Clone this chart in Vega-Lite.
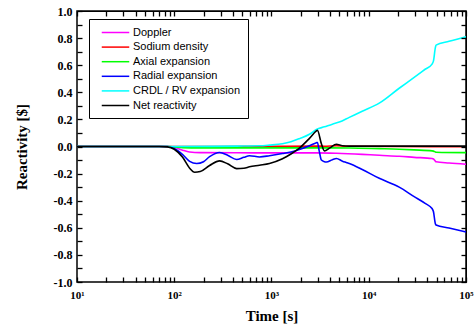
{
  "$schema": "https://vega.github.io/schema/vega-lite/v6.json",
  "width": 389,
  "height": 271,
  "autosize": "none",
  "padding": {"left": 77, "top": 11, "right": 9, "bottom": 45},
  "background": "white",
  "config": {"view": {"stroke": "black", "strokeWidth": 1.5}},
  "data": {"values": [
    {"s": "Doppler", "t": 10, "v": 0}, {"s": "Doppler", "t": 70, "v": 0}, {"s": "Doppler", "t": 85, "v": -0.001}, {"s": "Doppler", "t": 100, "v": -0.006}, {"s": "Doppler", "t": 122, "v": -0.027}, {"s": "Doppler", "t": 144, "v": -0.04}, {"s": "Doppler", "t": 185, "v": -0.045}, {"s": "Doppler", "t": 438, "v": -0.046}, {"s": "Doppler", "t": 953, "v": -0.047}, {"s": "Doppler", "t": 2897, "v": -0.047}, {"s": "Doppler", "t": 4645, "v": -0.05}, {"s": "Doppler", "t": 8570, "v": -0.058}, {"s": "Doppler", "t": 12823, "v": -0.065}, {"s": "Doppler", "t": 20560, "v": -0.072}, {"s": "Doppler", "t": 29309, "v": -0.08}, {"s": "Doppler", "t": 44771, "v": -0.089}, {"s": "Doppler", "t": 46238, "v": -0.092}, {"s": "Doppler", "t": 48417, "v": -0.108}, {"s": "Doppler", "t": 49204, "v": -0.113}, {"s": "Doppler", "t": 66988, "v": -0.122}, {"s": "Doppler", "t": 100000, "v": -0.131},
    {"s": "Sodium density", "t": 10, "v": 0}, {"s": "Sodium density", "t": 100, "v": 0}, {"s": "Sodium density", "t": 1000, "v": 0.001}, {"s": "Sodium density", "t": 2897, "v": 0.003}, {"s": "Sodium density", "t": 3499, "v": 0.002}, {"s": "Sodium density", "t": 4645, "v": 0.006}, {"s": "Sodium density", "t": 5875, "v": 0.002}, {"s": "Sodium density", "t": 20000, "v": 0}, {"s": "Sodium density", "t": 100000, "v": -0.002},
    {"s": "Axial expansion", "t": 10, "v": 0}, {"s": "Axial expansion", "t": 85, "v": 0}, {"s": "Axial expansion", "t": 100, "v": -0.003}, {"s": "Axial expansion", "t": 122, "v": -0.008}, {"s": "Axial expansion", "t": 185, "v": -0.01}, {"s": "Axial expansion", "t": 2897, "v": -0.01}, {"s": "Axial expansion", "t": 6310, "v": -0.011}, {"s": "Axial expansion", "t": 12823, "v": -0.016}, {"s": "Axial expansion", "t": 20560, "v": -0.02}, {"s": "Axial expansion", "t": 29309, "v": -0.025}, {"s": "Axial expansion", "t": 44771, "v": -0.032}, {"s": "Axial expansion", "t": 46238, "v": -0.034}, {"s": "Axial expansion", "t": 48417, "v": -0.04}, {"s": "Axial expansion", "t": 49204, "v": -0.042}, {"s": "Axial expansion", "t": 100000, "v": -0.045},
    {"s": "Radial expansion", "t": 10, "v": 0}, {"s": "Radial expansion", "t": 85, "v": 0}, {"s": "Radial expansion", "t": 100, "v": -0.015}, {"s": "Radial expansion", "t": 122, "v": -0.06}, {"s": "Radial expansion", "t": 144, "v": -0.11}, {"s": "Radial expansion", "t": 170, "v": -0.126}, {"s": "Radial expansion", "t": 200, "v": -0.112}, {"s": "Radial expansion", "t": 231, "v": -0.075}, {"s": "Radial expansion", "t": 293, "v": -0.044}, {"s": "Radial expansion", "t": 354, "v": -0.065}, {"s": "Radial expansion", "t": 438, "v": -0.096}, {"s": "Radial expansion", "t": 520, "v": -0.08}, {"s": "Radial expansion", "t": 594, "v": -0.068}, {"s": "Radial expansion", "t": 753, "v": -0.077}, {"s": "Radial expansion", "t": 953, "v": -0.068}, {"s": "Radial expansion", "t": 1297, "v": -0.052}, {"s": "Radial expansion", "t": 1585, "v": -0.04}, {"s": "Radial expansion", "t": 1936, "v": -0.022}, {"s": "Radial expansion", "t": 2455, "v": 0.005}, {"s": "Radial expansion", "t": 2897, "v": 0.028}, {"s": "Radial expansion", "t": 2965, "v": 0.03}, {"s": "Radial expansion", "t": 3090, "v": -0.03}, {"s": "Radial expansion", "t": 3258, "v": -0.1}, {"s": "Radial expansion", "t": 3499, "v": -0.112}, {"s": "Radial expansion", "t": 3664, "v": -0.114}, {"s": "Radial expansion", "t": 4227, "v": -0.097}, {"s": "Radial expansion", "t": 4645, "v": -0.089}, {"s": "Radial expansion", "t": 5370, "v": -0.108}, {"s": "Radial expansion", "t": 5875, "v": -0.118}, {"s": "Radial expansion", "t": 6310, "v": -0.126}, {"s": "Radial expansion", "t": 8570, "v": -0.17}, {"s": "Radial expansion", "t": 12823, "v": -0.235}, {"s": "Radial expansion", "t": 20560, "v": -0.3}, {"s": "Radial expansion", "t": 29309, "v": -0.37}, {"s": "Radial expansion", "t": 38000, "v": -0.42}, {"s": "Radial expansion", "t": 44771, "v": -0.458}, {"s": "Radial expansion", "t": 46238, "v": -0.48}, {"s": "Radial expansion", "t": 48417, "v": -0.57}, {"s": "Radial expansion", "t": 49204, "v": -0.58}, {"s": "Radial expansion", "t": 66988, "v": -0.602}, {"s": "Radial expansion", "t": 100000, "v": -0.63},
    {"s": "CRDL / RV expansion", "t": 10, "v": 0}, {"s": "CRDL / RV expansion", "t": 100, "v": 0}, {"s": "CRDL / RV expansion", "t": 231, "v": 0.001}, {"s": "CRDL / RV expansion", "t": 438, "v": 0.003}, {"s": "CRDL / RV expansion", "t": 753, "v": 0.005}, {"s": "CRDL / RV expansion", "t": 953, "v": 0.01}, {"s": "CRDL / RV expansion", "t": 1297, "v": 0.02}, {"s": "CRDL / RV expansion", "t": 1585, "v": 0.035}, {"s": "CRDL / RV expansion", "t": 1936, "v": 0.058}, {"s": "CRDL / RV expansion", "t": 2455, "v": 0.09}, {"s": "CRDL / RV expansion", "t": 2897, "v": 0.126}, {"s": "CRDL / RV expansion", "t": 3499, "v": 0.145}, {"s": "CRDL / RV expansion", "t": 4227, "v": 0.165}, {"s": "CRDL / RV expansion", "t": 4977, "v": 0.18}, {"s": "CRDL / RV expansion", "t": 6310, "v": 0.215}, {"s": "CRDL / RV expansion", "t": 8570, "v": 0.26}, {"s": "CRDL / RV expansion", "t": 12823, "v": 0.32}, {"s": "CRDL / RV expansion", "t": 20560, "v": 0.43}, {"s": "CRDL / RV expansion", "t": 29309, "v": 0.51}, {"s": "CRDL / RV expansion", "t": 38000, "v": 0.57}, {"s": "CRDL / RV expansion", "t": 44771, "v": 0.608}, {"s": "CRDL / RV expansion", "t": 46238, "v": 0.63}, {"s": "CRDL / RV expansion", "t": 48417, "v": 0.73}, {"s": "CRDL / RV expansion", "t": 49204, "v": 0.748}, {"s": "CRDL / RV expansion", "t": 66988, "v": 0.776}, {"s": "CRDL / RV expansion", "t": 100000, "v": 0.81},
    {"s": "Net reactivity", "t": 10, "v": 0}, {"s": "Net reactivity", "t": 70, "v": 0}, {"s": "Net reactivity", "t": 85, "v": -0.003}, {"s": "Net reactivity", "t": 100, "v": -0.02}, {"s": "Net reactivity", "t": 122, "v": -0.08}, {"s": "Net reactivity", "t": 144, "v": -0.16}, {"s": "Net reactivity", "t": 162, "v": -0.19}, {"s": "Net reactivity", "t": 185, "v": -0.185}, {"s": "Net reactivity", "t": 231, "v": -0.14}, {"s": "Net reactivity", "t": 293, "v": -0.106}, {"s": "Net reactivity", "t": 354, "v": -0.128}, {"s": "Net reactivity", "t": 438, "v": -0.163}, {"s": "Net reactivity", "t": 520, "v": -0.16}, {"s": "Net reactivity", "t": 594, "v": -0.15}, {"s": "Net reactivity", "t": 753, "v": -0.138}, {"s": "Net reactivity", "t": 953, "v": -0.125}, {"s": "Net reactivity", "t": 1297, "v": -0.09}, {"s": "Net reactivity", "t": 1585, "v": -0.055}, {"s": "Net reactivity", "t": 1936, "v": -0.012}, {"s": "Net reactivity", "t": 2455, "v": 0.06}, {"s": "Net reactivity", "t": 2897, "v": 0.115}, {"s": "Net reactivity", "t": 2965, "v": 0.12}, {"s": "Net reactivity", "t": 3258, "v": 0.02}, {"s": "Net reactivity", "t": 3499, "v": -0.032}, {"s": "Net reactivity", "t": 3981, "v": -0.01}, {"s": "Net reactivity", "t": 4645, "v": 0.017}, {"s": "Net reactivity", "t": 5370, "v": 0.005}, {"s": "Net reactivity", "t": 6310, "v": 0.003}, {"s": "Net reactivity", "t": 100000, "v": 0.003}
  ]},
  "layer": [
    {
      "mark": {"type": "line", "strokeWidth": 1.6, "interpolate": "monotone"},
      "encoding": {
        "x": {"field": "t", "type": "quantitative", "scale": {"type": "log", "domain": [10, 100000], "nice": false},
          "axis": {"orient": "bottom", "zindex": 1, "values": [10, 20, 30, 40, 50, 60, 70, 80, 90, 100, 200, 300, 400, 500, 600, 700, 800, 900, 1000, 2000, 3000, 4000, 5000, 6000, 7000, 8000, 9000, 10000, 20000, 30000, 40000, 50000, 60000, 70000, 80000, 90000, 100000],
            "ticks": true, "tickSize": -5, "tickColor": "#000000", "tickWidth": 1.3, "domain": false, "grid": false,
            "labelExpr": "abs(log(datum.value)/LN10 - round(log(datum.value)/LN10)) < 0.001 ? '10' + ['¹','²','³','⁴','⁵'][round(log(datum.value)/LN10) - 1] : ''",
            "labelFont": "Liberation Serif", "labelFontWeight": "bold", "labelFontSize": 11, "labelColor": "black", "labelPadding": 12, "labelFlush": false, "labelOverlap": false,
            "title": "Time [s]", "titleFont": "Liberation Serif", "titleFontWeight": "bold", "titleFontSize": 15, "titleColor": "black", "titlePadding": 8}},
        "y": {"field": "v", "type": "quantitative", "scale": {"domain": [-1, 1], "nice": false, "zero": false},
          "axis": {"orient": "left", "zindex": 1, "values": [-1, -0.9, -0.8, -0.7, -0.6, -0.5, -0.4, -0.3, -0.2, -0.1, 0, 0.1, 0.2, 0.3, 0.4, 0.5, 0.6, 0.7, 0.8, 0.9, 1],
            "ticks": true, "tickSize": -5, "tickColor": "#000000", "tickWidth": 1.3, "domain": false, "grid": false,
            "labelExpr": "abs(datum.value * 5 - round(datum.value * 5)) > 0.01 ? '' : (datum.value < 0 ? '-' + format(-datum.value, '.1f') : format(datum.value, '.1f'))",
            "labelFont": "Liberation Serif", "labelFontWeight": "bold", "labelFontSize": 12, "labelColor": "black", "labelPadding": 10, "labelFlush": false, "labelOverlap": false,
            "title": "Reactivity [$]", "titleFont": "Liberation Serif", "titleFontWeight": "bold", "titleFontSize": 15, "titleColor": "black", "titlePadding": 24}},
        "color": {"field": "s", "type": "nominal",
          "scale": {"domain": ["Doppler", "Sodium density", "Axial expansion", "Radial expansion", "CRDL / RV expansion", "Net reactivity"],
                    "range": ["#FF00FF", "#FF0000", "#00FF00", "#0000FF", "#00FFFF", "#000000"]},
          "legend": {"orient": "none", "legendX": 12, "legendY": 8, "title": null, "strokeColor": "black", "fillColor": "white", "padding": 7,
            "labelFont": "Liberation Sans", "labelFontSize": 11, "labelColor": "black",
            "symbolType": "M-2.5,0H2.5", "symbolSize": 121, "symbolStrokeWidth": 1.5, "symbolOffset": 13, "labelOffset": 11, "rowPadding": 2.6}}
      }
    },
    {
      "mark": {"type": "point", "opacity": 0},
      "encoding": {
        "x": {"field": "t", "type": "quantitative", "scale": {"type": "log", "domain": [10, 100000], "nice": false},
          "axis": {"orient": "top", "zindex": 1, "values": [10, 20, 30, 40, 50, 60, 70, 80, 90, 100, 200, 300, 400, 500, 600, 700, 800, 900, 1000, 2000, 3000, 4000, 5000, 6000, 7000, 8000, 9000, 10000, 20000, 30000, 40000, 50000, 60000, 70000, 80000, 90000, 100000],
            "labels": true, "labelExpr": "''", "domain": true, "domainColor": "black", "grid": false, "ticks": true, "tickSize": -5, "tickColor": "#000000", "tickWidth": 1.3, "title": null}},
        "y": {"field": "v", "type": "quantitative", "scale": {"domain": [-1, 1], "nice": false, "zero": false},
          "axis": {"orient": "right", "zindex": 1, "values": [-1, -0.9, -0.8, -0.7, -0.6, -0.5, -0.4, -0.3, -0.2, -0.1, 0, 0.1, 0.2, 0.3, 0.4, 0.5, 0.6, 0.7, 0.8, 0.9, 1],
            "labels": true, "labelExpr": "''", "domain": true, "domainColor": "black", "grid": false, "ticks": true, "tickSize": -5, "tickColor": "#000000", "tickWidth": 1.3, "title": null}}
      }
    }
  ],
  "resolve": {"axis": {"x": "independent", "y": "independent"}}
}
